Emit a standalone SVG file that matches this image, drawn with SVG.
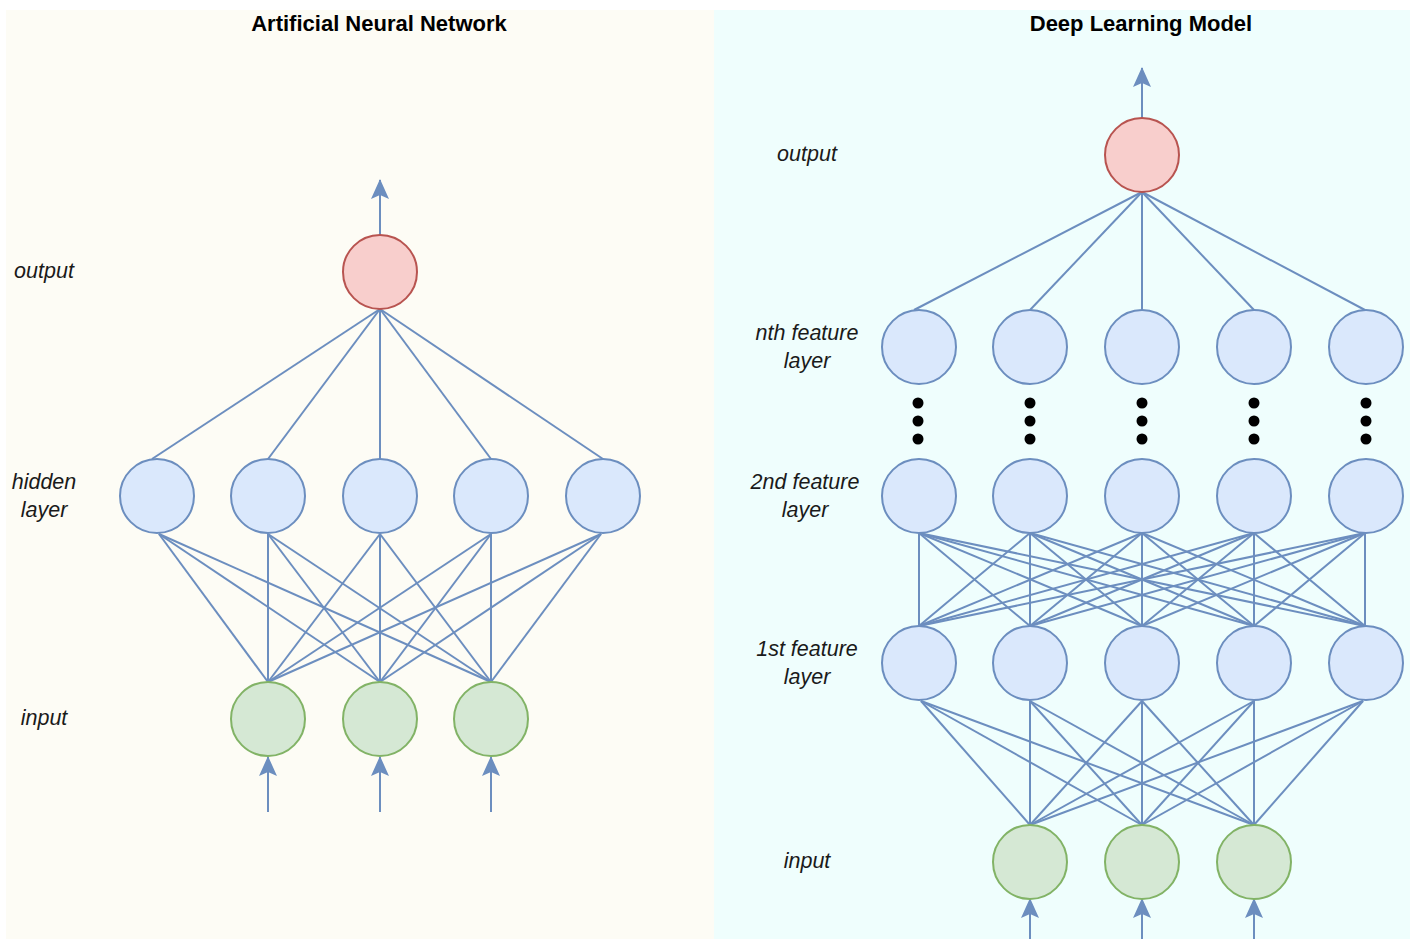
<svg xmlns="http://www.w3.org/2000/svg" width="1410" height="939" viewBox="0 0 1410 939">
  <defs>
    <marker id="arrow" viewBox="0 0 20 18" refX="19" refY="9" markerWidth="20" markerHeight="18" markerUnits="userSpaceOnUse" orient="auto">
      <path d="M0,0 L20,9 L0,18 L4,9 Z" fill="#6c8ebf"/>
    </marker>
    <style>
      .title { font-family: "Liberation Sans", Arial, sans-serif; font-weight: bold; font-size: 22px; fill: #000; text-anchor: middle; }
      .label { font-family: "Liberation Sans", Arial, sans-serif; font-style: italic; font-size: 21.5px; fill: #1a1a1a; text-anchor: middle; }
      .blue { fill: #dae8fc; stroke: #6c8ebf; stroke-width: 2; }
      .red { fill: #f8cecc; stroke: #b85450; stroke-width: 2; }
      .green { fill: #d5e8d4; stroke: #82b366; stroke-width: 2; }
      .edge { stroke: #6c8ebf; stroke-width: 2; fill: none; }
      .flow { stroke: #6c8ebf; stroke-width: 2; fill: none; marker-end: url(#arrow); }
      .dot { fill: #000; }
    </style>
  </defs>

  <!-- panels -->
  <rect x="0" y="0" width="1410" height="939" fill="#ffffff"/>
  <rect x="6" y="10" width="708" height="929" fill="#fdfcf5"/>
  <rect x="714" y="10" width="696" height="929" fill="#effefd"/>

  <!-- titles -->
  <text class="title" x="379" y="31">Artificial Neural Network</text>
  <text class="title" x="1141" y="31">Deep Learning Model</text>

  <!-- layer labels -->
  <g id="labels">
    <text class="label" x="44" y="278">output</text>
    <text class="label" x="44" y="489">hidden</text>
    <text class="label" x="44" y="517">layer</text>
    <text class="label" x="44" y="725">input</text>

    <text class="label" x="807" y="161">output</text>
    <text class="label" x="807" y="340">nth feature</text>
    <text class="label" x="807" y="368">layer</text>
    <text class="label" x="805" y="489">2nd feature</text>
    <text class="label" x="805" y="517">layer</text>
    <text class="label" x="807" y="656">1st feature</text>
    <text class="label" x="807" y="684">layer</text>
    <text class="label" x="807" y="868">input</text>
  </g>

  <!-- connectors -->
  <g id="connectors">
    <!-- ANN: output arrow -->
    <line class="flow" x1="380" y1="235" x2="380" y2="180"/>
    <!-- ANN: input arrows -->
    <line class="flow" x1="268" y1="812" x2="268" y2="757"/>
    <line class="flow" x1="380" y1="812" x2="380" y2="757"/>
    <line class="flow" x1="491" y1="812" x2="491" y2="757"/>
    <!-- ANN: hidden to output -->
    <line class="edge" x1="380" y1="309" x2="152" y2="459"/>
    <line class="edge" x1="380" y1="309" x2="268" y2="459"/>
    <line class="edge" x1="380" y1="309" x2="380" y2="459"/>
    <line class="edge" x1="380" y1="309" x2="491" y2="459"/>
    <line class="edge" x1="380" y1="309" x2="603" y2="459"/>
    <!-- ANN: input to hidden -->
    <g>
      <line class="edge" x1="268" y1="682" x2="159" y2="534"/>
      <line class="edge" x1="268" y1="682" x2="268" y2="534"/>
      <line class="edge" x1="268" y1="682" x2="380" y2="534"/>
      <line class="edge" x1="268" y1="682" x2="491" y2="534"/>
      <line class="edge" x1="268" y1="682" x2="601" y2="534"/>
      <line class="edge" x1="380" y1="682" x2="159" y2="534"/>
      <line class="edge" x1="380" y1="682" x2="268" y2="534"/>
      <line class="edge" x1="380" y1="682" x2="380" y2="534"/>
      <line class="edge" x1="380" y1="682" x2="491" y2="534"/>
      <line class="edge" x1="380" y1="682" x2="601" y2="534"/>
      <line class="edge" x1="491" y1="682" x2="159" y2="534"/>
      <line class="edge" x1="491" y1="682" x2="268" y2="534"/>
      <line class="edge" x1="491" y1="682" x2="380" y2="534"/>
      <line class="edge" x1="491" y1="682" x2="491" y2="534"/>
      <line class="edge" x1="491" y1="682" x2="601" y2="534"/>
    </g>

    <!-- DL: output arrow -->
    <line class="flow" x1="1142" y1="118" x2="1142" y2="68"/>
    <!-- DL: input arrows -->
    <line class="flow" x1="1030" y1="945" x2="1030" y2="899"/>
    <line class="flow" x1="1142" y1="945" x2="1142" y2="899"/>
    <line class="flow" x1="1254" y1="945" x2="1254" y2="899"/>
    <!-- DL: nth layer to output -->
    <line class="edge" x1="1142" y1="192" x2="914" y2="310"/>
    <line class="edge" x1="1142" y1="192" x2="1030" y2="310"/>
    <line class="edge" x1="1142" y1="192" x2="1142" y2="310"/>
    <line class="edge" x1="1142" y1="192" x2="1254" y2="310"/>
    <line class="edge" x1="1142" y1="192" x2="1365" y2="310"/>
    <!-- DL: 1st layer to 2nd layer (fully connected) -->
    <g>
      <line class="edge" x1="919" y1="626" x2="919" y2="533"/>
      <line class="edge" x1="919" y1="626" x2="1030" y2="533"/>
      <line class="edge" x1="919" y1="626" x2="1142" y2="533"/>
      <line class="edge" x1="919" y1="626" x2="1254" y2="533"/>
      <line class="edge" x1="919" y1="626" x2="1365" y2="533"/>
      <line class="edge" x1="1030" y1="626" x2="919" y2="533"/>
      <line class="edge" x1="1030" y1="626" x2="1030" y2="533"/>
      <line class="edge" x1="1030" y1="626" x2="1142" y2="533"/>
      <line class="edge" x1="1030" y1="626" x2="1254" y2="533"/>
      <line class="edge" x1="1030" y1="626" x2="1365" y2="533"/>
      <line class="edge" x1="1142" y1="626" x2="919" y2="533"/>
      <line class="edge" x1="1142" y1="626" x2="1030" y2="533"/>
      <line class="edge" x1="1142" y1="626" x2="1142" y2="533"/>
      <line class="edge" x1="1142" y1="626" x2="1254" y2="533"/>
      <line class="edge" x1="1142" y1="626" x2="1365" y2="533"/>
      <line class="edge" x1="1254" y1="626" x2="919" y2="533"/>
      <line class="edge" x1="1254" y1="626" x2="1030" y2="533"/>
      <line class="edge" x1="1254" y1="626" x2="1142" y2="533"/>
      <line class="edge" x1="1254" y1="626" x2="1254" y2="533"/>
      <line class="edge" x1="1254" y1="626" x2="1365" y2="533"/>
      <line class="edge" x1="1365" y1="626" x2="919" y2="533"/>
      <line class="edge" x1="1365" y1="626" x2="1030" y2="533"/>
      <line class="edge" x1="1365" y1="626" x2="1142" y2="533"/>
      <line class="edge" x1="1365" y1="626" x2="1254" y2="533"/>
      <line class="edge" x1="1365" y1="626" x2="1365" y2="533"/>
    </g>
    <!-- DL: input to 1st layer -->
    <g>
      <line class="edge" x1="1030" y1="825" x2="921" y2="701"/>
      <line class="edge" x1="1030" y1="825" x2="1030" y2="701"/>
      <line class="edge" x1="1030" y1="825" x2="1142" y2="701"/>
      <line class="edge" x1="1030" y1="825" x2="1254" y2="701"/>
      <line class="edge" x1="1030" y1="825" x2="1363" y2="701"/>
      <line class="edge" x1="1142" y1="825" x2="921" y2="701"/>
      <line class="edge" x1="1142" y1="825" x2="1030" y2="701"/>
      <line class="edge" x1="1142" y1="825" x2="1142" y2="701"/>
      <line class="edge" x1="1142" y1="825" x2="1254" y2="701"/>
      <line class="edge" x1="1142" y1="825" x2="1363" y2="701"/>
      <line class="edge" x1="1254" y1="825" x2="921" y2="701"/>
      <line class="edge" x1="1254" y1="825" x2="1030" y2="701"/>
      <line class="edge" x1="1254" y1="825" x2="1142" y2="701"/>
      <line class="edge" x1="1254" y1="825" x2="1254" y2="701"/>
      <line class="edge" x1="1254" y1="825" x2="1363" y2="701"/>
    </g>
  </g>

  <!-- ANN nodes -->
  <g id="ann-output"><circle class="red" cx="380" cy="272" r="37"/></g>
  <g id="ann-hidden-1"><circle class="blue" cx="157" cy="496" r="37"/></g>
  <g id="ann-hidden-2"><circle class="blue" cx="268" cy="496" r="37"/></g>
  <g id="ann-hidden-3"><circle class="blue" cx="380" cy="496" r="37"/></g>
  <g id="ann-hidden-4"><circle class="blue" cx="491" cy="496" r="37"/></g>
  <g id="ann-hidden-5"><circle class="blue" cx="603" cy="496" r="37"/></g>
  <g id="ann-input-1"><circle class="green" cx="268" cy="719" r="37"/></g>
  <g id="ann-input-2"><circle class="green" cx="380" cy="719" r="37"/></g>
  <g id="ann-input-3"><circle class="green" cx="491" cy="719" r="37"/></g>

  <!-- DL nodes -->
  <g id="dl-output"><circle class="red" cx="1142" cy="155" r="37"/></g>
  <g id="dl-nth-1"><circle class="blue" cx="919" cy="347" r="37"/></g>
  <g id="dl-nth-2"><circle class="blue" cx="1030" cy="347" r="37"/></g>
  <g id="dl-nth-3"><circle class="blue" cx="1142" cy="347" r="37"/></g>
  <g id="dl-nth-4"><circle class="blue" cx="1254" cy="347" r="37"/></g>
  <g id="dl-nth-5"><circle class="blue" cx="1366" cy="347" r="37"/></g>
  <g id="dl-2nd-1"><circle class="blue" cx="919" cy="496" r="37"/></g>
  <g id="dl-2nd-2"><circle class="blue" cx="1030" cy="496" r="37"/></g>
  <g id="dl-2nd-3"><circle class="blue" cx="1142" cy="496" r="37"/></g>
  <g id="dl-2nd-4"><circle class="blue" cx="1254" cy="496" r="37"/></g>
  <g id="dl-2nd-5"><circle class="blue" cx="1366" cy="496" r="37"/></g>
  <g id="dl-1st-1"><circle class="blue" cx="919" cy="663" r="37"/></g>
  <g id="dl-1st-2"><circle class="blue" cx="1030" cy="663" r="37"/></g>
  <g id="dl-1st-3"><circle class="blue" cx="1142" cy="663" r="37"/></g>
  <g id="dl-1st-4"><circle class="blue" cx="1254" cy="663" r="37"/></g>
  <g id="dl-1st-5"><circle class="blue" cx="1366" cy="663" r="37"/></g>
  <g id="dl-input-1"><circle class="green" cx="1030" cy="862" r="37"/></g>
  <g id="dl-input-2"><circle class="green" cx="1142" cy="862" r="37"/></g>
  <g id="dl-input-3"><circle class="green" cx="1254" cy="862" r="37"/></g>

  <!-- ellipsis between 2nd and nth layers -->
  <g id="ellipsis">
    <circle class="dot" cx="918" cy="403" r="5.5"/><circle class="dot" cx="918" cy="421" r="5.5"/><circle class="dot" cx="918" cy="439" r="5.5"/>
    <circle class="dot" cx="1030" cy="403" r="5.5"/><circle class="dot" cx="1030" cy="421" r="5.5"/><circle class="dot" cx="1030" cy="439" r="5.5"/>
    <circle class="dot" cx="1142" cy="403" r="5.5"/><circle class="dot" cx="1142" cy="421" r="5.5"/><circle class="dot" cx="1142" cy="439" r="5.5"/>
    <circle class="dot" cx="1254" cy="403" r="5.5"/><circle class="dot" cx="1254" cy="421" r="5.5"/><circle class="dot" cx="1254" cy="439" r="5.5"/>
    <circle class="dot" cx="1366" cy="403" r="5.5"/><circle class="dot" cx="1366" cy="421" r="5.5"/><circle class="dot" cx="1366" cy="439" r="5.5"/>
  </g>
</svg>
